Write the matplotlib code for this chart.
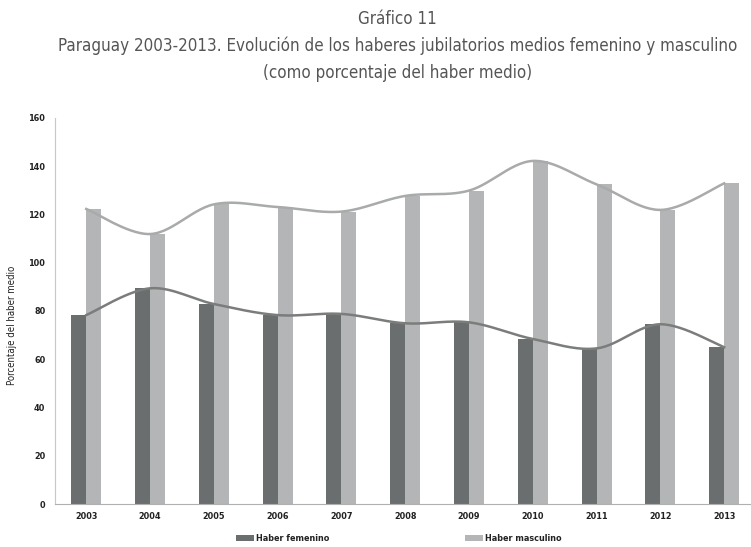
import numpy as np
import matplotlib
matplotlib.use('Agg')
import matplotlib.pyplot as plt

plt.rcParams['font.family'] = ['DejaVu Sans']
plt.rcParams['font.stretch'] = 'condensed'

years = ['2003', '2004', '2005', '2006', '2007', '2008', '2009', '2010', '2011', '2012', '2013']
femenino = [78.3, 89.4, 82.9, 78.3, 78.8, 74.9, 75.3, 68.4, 64.5, 74.5, 65.0]
masculino = [122.3, 111.9, 124.2, 123.1, 121.2, 127.7, 129.9, 142.2, 132.5, 121.9, 132.9]

c_fem = '#6b6e6e'
c_mas = '#b4b5b6'
c_fem_line = '#7b7d7d'
c_mas_line = '#a9aaaa'


def smooth(xs, ys, n=30):
    # catmull-rom like the excel smoothed line
    xs = np.asarray(xs, float)
    ys = np.asarray(ys, float)
    px = np.concatenate([[xs[0]], xs, [xs[-1]]])
    py = np.concatenate([[ys[0]], ys, [ys[-1]]])
    outx, outy = [], []
    t = np.linspace(0, 1, n)
    for i in range(1, len(px) - 2):
        p0, p1, p2, p3 = [np.array([px[k], py[k]]) for k in (i - 1, i, i + 1, i + 2)]
        c1 = p1 + (p2 - p0) / 6.0
        c2 = p2 - (p3 - p1) / 6.0
        b = ((1 - t) ** 3)[:, None] * p1 + (3 * (1 - t) ** 2 * t)[:, None] * c1 \
            + (3 * (1 - t) * t ** 2)[:, None] * c2 + (t ** 3)[:, None] * p2
        outx.extend(b[:, 0])
        outy.extend(b[:, 1])
    return outx, outy


fig = plt.figure(figsize=(7.51, 5.47), dpi=100)
ax = fig.add_axes([0.0732, 0.0786, 0.9268, 0.7057])

x = np.arange(len(years))
w = 0.235
ax.bar(x - w / 2, femenino, w, color=c_fem, label='Haber femenino', zorder=2)
ax.bar(x + w / 2, masculino, w, color=c_mas, label='Haber masculino', zorder=2)

sx, sy = smooth(x, femenino)
ax.plot(sx, sy, color=c_fem_line, lw=1.8, zorder=3)
sx, sy = smooth(x, masculino)
ax.plot(sx, sy, color=c_mas_line, lw=1.8, zorder=3)

ax.set_xlim(-0.49, 10.42)
ax.set_ylim(0, 160)
ax.set_yticks(range(0, 161, 20))
ax.set_xticks(x)
ax.set_xticklabels(years)
for s in ['top', 'right']:
    ax.spines[s].set_visible(False)
ax.spines['left'].set_color('#c8c8c8')
ax.spines['bottom'].set_color('#b0b0b0')
ax.tick_params(axis='both', length=0, labelsize=6.5, colors='#222222', pad=6)
for lab in ax.get_xticklabels() + ax.get_yticklabels():
    lab.set_fontweight('bold')
ax.tick_params(axis='y', pad=7)
ax.set_ylabel('Porcentaje del haber medio', fontsize=6.9, color='#222222')
ax.yaxis.set_label_coords(-0.0546, 0.464)

title_col = '#555555'
fig.text(0.529, 0.966, 'Gráfico 11', ha='center', va='center', fontsize=12.2, color=title_col)
fig.text(0.529, 0.916, 'Paraguay 2003-2013. Evolución de los haberes jubilatorios medios femenino y masculino',
         ha='center', va='center', fontsize=12.2, color=title_col)
fig.text(0.529, 0.866, '(como porcentaje del haber medio)', ha='center', va='center',
         fontsize=12.2, color=title_col)

leg = fig.legend(loc='center', bbox_to_anchor=(0.531, 0.016), ncol=2, frameon=False,
                 fontsize=6.5, handlelength=2.0, handleheight=0.65, handletextpad=0.2,
                 columnspacing=15.0)
for t in leg.get_texts():
    t.set_fontweight('bold')
    t.set_color('#222222')

fig.savefig('out.png', dpi=100)
